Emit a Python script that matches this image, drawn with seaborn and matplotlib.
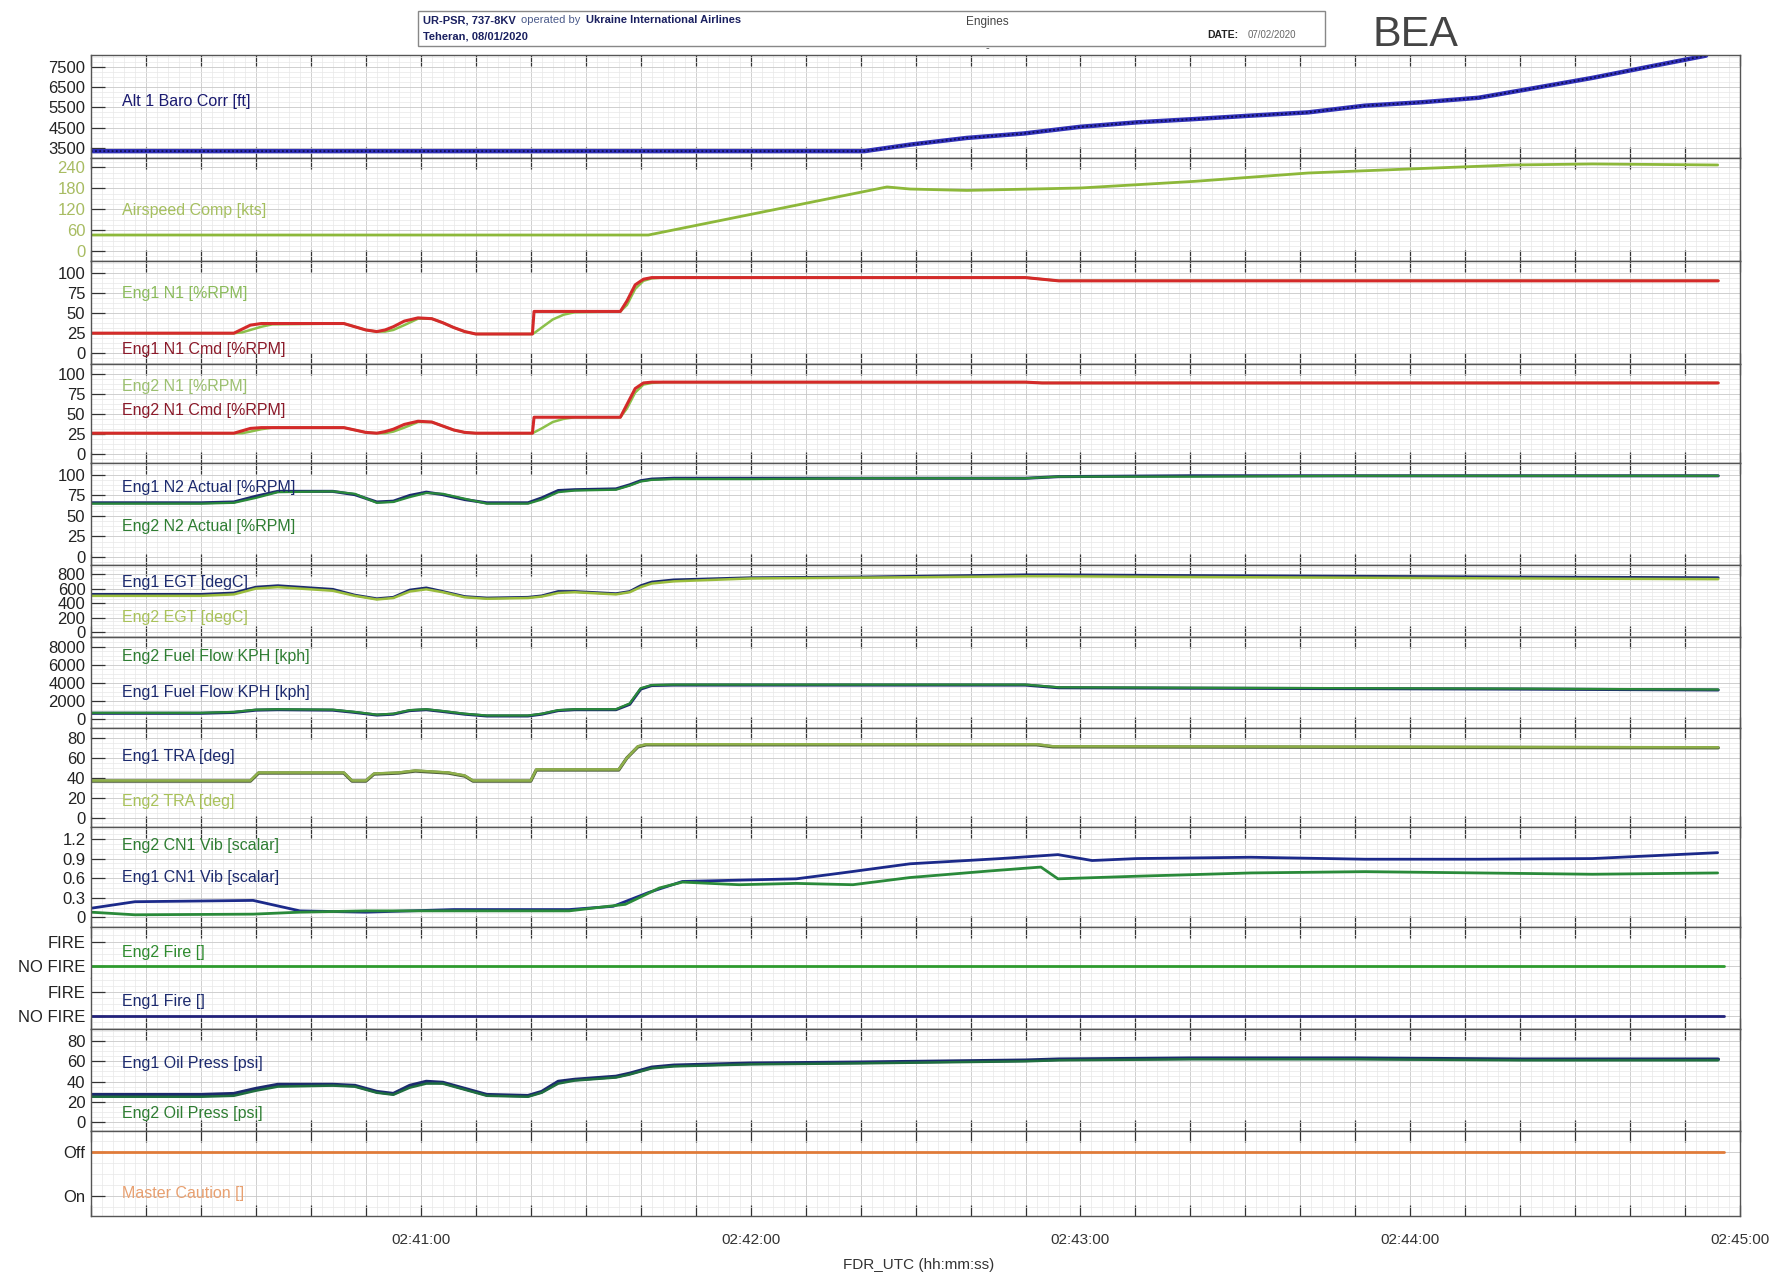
import numpy as np
import pandas as pd
import seaborn as sns
import matplotlib.pyplot as plt
from matplotlib.ticker import MultipleLocator, AutoMinorLocator, FuncFormatter

# time axis: seconds after 02:40:00 UTC
t_alt = [0, 140.7, 149, 159.3, 169.7, 180, 190.3, 200.7, 211, 221.4, 231.7, 242.1, 252.4, 262.8, 273.1, 283.4, 293.8]
alt = [3340, 3340, 3660, 3990, 4210, 4540, 4760, 4920, 5090, 5250, 5580, 5750, 5970, 6460, 6950, 7500, 8050]

t_ias = [0, 101.4, 144.8, 149, 159.3, 180, 200.7, 221.4, 242.1, 258.6, 273.1, 295.9]
ias = [46, 46, 184, 178, 174, 181, 200, 224, 237, 247, 250, 247]

t_n1 = [0, 26, 27.5, 29, 31, 33, 46, 48, 50, 52, 53.5, 55, 57, 59.5, 62, 64, 66, 68, 70, 80.3,
        80.6, 82, 84, 86, 88, 96.3, 97.5, 99, 100.5, 102, 104, 170, 173, 176, 296]
eng1_n1_cmd = [25, 25, 30, 35, 37, 37, 37, 33, 29, 27, 29, 33, 40, 44, 43, 38, 32, 27, 24, 24,
               52, 52, 52, 52, 52, 52, 65, 85, 92, 94, 94, 94, 92, 90, 90]
eng1_n1 = [25, 25, 26, 29, 33, 36, 37, 33, 29, 27, 27, 29, 35, 43, 43, 38, 32, 27, 24, 24,
           25, 32, 42, 48, 51, 52, 60, 80, 90, 93, 94, 94, 92, 90, 90]
eng2_n1_cmd = [26, 26, 29, 32, 33, 33, 33, 30, 27, 26, 28, 31, 37, 41, 40, 35, 30, 27, 26, 26,
               46, 46, 46, 46, 46, 46, 62, 82, 89, 90, 90, 90, 89, 89, 89]
eng2_n1 = [26, 26, 26, 28, 31, 33, 33, 30, 27, 26, 26, 28, 33, 40, 40, 35, 30, 27, 26, 26,
           27, 32, 40, 44, 46, 46, 57, 77, 87, 89, 90, 90, 89, 89, 89]

t_eng = [0, 20, 26, 30, 34, 44, 48, 52, 55, 58, 61, 64, 68, 72, 79.5, 82, 85, 88, 95.5, 98,
         100, 102, 106, 120, 140, 170, 176, 200, 230, 260, 296]
eng1_n2 = [66, 66, 67, 74, 80, 80, 76, 67, 68, 75, 79, 76, 70, 66, 66, 72, 81, 82, 83, 88,
           93, 95, 96, 96, 96, 96, 98, 99, 99, 99, 99]
eng2_n2 = [65, 65, 66, 72, 79, 80, 77, 66, 67, 73, 78, 77, 71, 65, 65, 70, 79, 81, 82, 87,
           92, 94, 95, 95, 96, 96, 98, 98, 99, 99, 99]
eng1_egt = [520, 520, 540, 620, 640, 590, 510, 460, 480, 580, 610, 560, 490, 470, 480, 500, 560, 560, 530, 560,
            640, 690, 720, 750, 760, 790, 790, 780, 770, 760, 750]
eng2_egt = [500, 500, 520, 600, 620, 570, 500, 450, 470, 560, 590, 550, 480, 460, 470, 490, 540, 550, 520, 550,
            620, 670, 700, 740, 750, 770, 770, 760, 750, 740, 730]
eng1_ff = [600, 600, 700, 950, 1000, 950, 700, 400, 500, 900, 1000, 800, 500, 300, 300, 500, 900, 1000, 1000, 1600,
           3300, 3700, 3750, 3750, 3750, 3750, 3450, 3400, 3350, 3300, 3200]
eng2_ff = [650, 650, 750, 1000, 1050, 1000, 750, 450, 550, 950, 1050, 850, 550, 350, 350, 550, 950, 1050, 1050, 1700,
           3400, 3750, 3800, 3800, 3800, 3800, 3500, 3450, 3400, 3350, 3250]
eng1_oil = [27, 27, 28, 33, 37, 37, 36, 30, 28, 36, 40, 39, 33, 27, 26, 30, 40, 42, 45, 48,
            51, 54, 56, 58, 59, 61, 62, 63, 63, 62, 62]
eng2_oil = [25, 25, 26, 31, 35, 36, 35, 29, 27, 34, 38, 38, 32, 26, 25, 29, 38, 41, 44, 47,
            50, 53, 55, 57, 58, 60, 61, 62, 62, 61, 61]

t_tra = [0, 29, 30.5, 46, 47.5, 50, 51.5, 56, 59, 62, 65, 68, 69.5, 80, 81, 96, 97.5, 99.5, 101, 172, 175, 296]
eng1_tra = [37, 37, 45, 45, 37, 37, 44, 45, 47, 46, 45, 42, 37, 37, 48, 48, 60, 71, 73, 73, 71, 70]
eng2_tra = [37.5, 37.5, 45.5, 45.5, 37.5, 37.5, 44.5, 45.5, 47.5, 46.5, 45.5, 42.5, 37.5, 37.5, 48.5, 48.5, 60, 71.5, 73.5, 73.5, 71.5, 70.5]

t_vib1 = [0, 8, 29.5, 38, 50, 66, 87, 95, 101.4, 107.6, 128.3, 136.6, 149, 165.5, 175.9, 182.1, 190.3, 211, 231.7, 252.4, 273.1, 295.9]
eng1_vib = [0.14, 0.24, 0.26, 0.10, 0.08, 0.12, 0.12, 0.17, 0.38, 0.55, 0.59, 0.68, 0.82, 0.90, 0.96, 0.87, 0.90, 0.92, 0.89, 0.89, 0.90, 0.99]
t_vib2 = [0, 8, 29.5, 38, 50, 66, 87, 97.2, 103.4, 107.6, 117.9, 128.3, 138.6, 149, 163.4, 172.8, 175.9, 190.3, 211, 231.7, 252.4, 273.1, 295.9]
eng2_vib = [0.08, 0.04, 0.05, 0.08, 0.1, 0.1, 0.1, 0.2, 0.45, 0.54, 0.5, 0.52, 0.5, 0.61, 0.71, 0.77, 0.59, 0.63, 0.68, 0.70, 0.68, 0.66, 0.68]

t_flag = [0, 297]
eng2_fire = [0, 0]
eng1_fire = [0, 0]
master_caution = [1, 1]   # 1 = Off

xtick_minutes = ['02:41:00', '02:42:00', '02:43:00', '02:44:00', '02:45:00']

NAVY = '#1c2a6e'
GREEN = '#2a8a3a'
YGREEN = '#9abd3c'
RED = '#d42a2a'

sns.set_theme(style='white')
plt.rcParams['font.family'] = ['Liberation Sans', 'DejaVu Sans']

fig = plt.figure(figsize=(17.83, 12.79), dpi=100)
heights = [91, 91, 90, 87, 90, 63, 80, 87, 88, 45, 45, 90, 75]
gs = fig.add_gridspec(13, 1, height_ratios=heights, hspace=0,
                      left=0.051, right=0.976, top=1 - 48 / 1125, bottom=1 - 1070 / 1125)
axes = [fig.add_subplot(gs[i]) for i in range(13)]


def style(ax, ylim, yticks, ylabels=None, tick_color='#222222'):
    ax.set_xlim(0, 300)
    ax.set_ylim(*ylim)
    ax.set_yticks(yticks)
    if ylabels is not None:
        ax.set_yticklabels(ylabels)
    ax.xaxis.set_major_locator(MultipleLocator(10))
    ax.xaxis.set_minor_locator(MultipleLocator(2))
    ax.yaxis.set_minor_locator(AutoMinorLocator(4))
    ax.grid(which='major', color='#c8c8c8', lw=0.6)
    ax.grid(which='minor', color='#e8e8e8', lw=0.5)
    ax.tick_params(axis='x', which='major', direction='in', top=True, bottom=True,
                   length=8, width=0.9, color='#333333', labelbottom=False)
    ax.tick_params(axis='y', which='major', direction='in', left=True, length=10,
                   width=0.9, color='#333333', labelsize=12, pad=4, labelcolor=tick_color)
    ax.tick_params(which='minor', length=0)
    for s in ax.spines.values():
        s.set_color('#555555')
        s.set_linewidth(1)
    ax.set_xlabel('')
    ax.set_ylabel('')


def label(ax, y, text, color):
    ax.text(0.019, y, text, transform=ax.transAxes, color=color, fontsize=11.5, va='center')


# 1 altitude
ax = axes[0]
sns.lineplot(x=t_alt, y=alt, ax=ax, color='#3030b8', linewidth=3.2)
sns.lineplot(x=t_alt, y=alt, ax=ax, color='#0e0e50', linewidth=1.3, linestyle=(0, (1, 1.3)))
style(ax, (3000, 8100), [3500, 4500, 5500, 6500, 7500])
label(ax, 0.55, 'Alt 1 Baro Corr [ft]', '#1a1a70')

# 2 airspeed
ax = axes[1]
sns.lineplot(x=t_ias, y=ias, ax=ax, color='#8db83a', linewidth=2)
style(ax, (-30, 267), [0, 60, 120, 180, 240], tick_color='#a8bc62')
label(ax, 0.49, 'Airspeed Comp [kts]', '#a6c060')

# 3 eng1 N1
ax = axes[2]
sns.lineplot(x=t_n1, y=eng1_n1, ax=ax, color='#8cc04a', linewidth=1.8)
sns.lineplot(x=t_n1, y=eng1_n1_cmd, ax=ax, color=RED, linewidth=2.2)
style(ax, (-13, 114), [0, 25, 50, 75, 100])
label(ax, 0.69, 'Eng1 N1 [%RPM]', '#8cbc5c')
label(ax, 0.14, 'Eng1 N1 Cmd [%RPM]', '#8b1a2a')

# 4 eng2 N1
ax = axes[3]
sns.lineplot(x=t_n1, y=eng2_n1, ax=ax, color='#8cc04a', linewidth=1.8)
sns.lineplot(x=t_n1, y=eng2_n1_cmd, ax=ax, color=RED, linewidth=2.2)
style(ax, (-11, 113), [0, 25, 50, 75, 100])
label(ax, 0.77, 'Eng2 N1 [%RPM]', '#9cc070')
label(ax, 0.53, 'Eng2 N1 Cmd [%RPM]', '#8b1a2a')

# 5 N2
ax = axes[4]
sns.lineplot(x=t_eng, y=eng1_n2, ax=ax, color=NAVY, linewidth=2.2)
sns.lineplot(x=t_eng, y=eng2_n2, ax=ax, color=GREEN, linewidth=1.6)
style(ax, (-10, 115), [0, 25, 50, 75, 100])
label(ax, 0.76, 'Eng1 N2 Actual [%RPM]', NAVY)
label(ax, 0.38, 'Eng2 N2 Actual [%RPM]', '#2e7d32')

# 6 EGT
ax = axes[5]
sns.lineplot(x=t_eng, y=eng1_egt, ax=ax, color=NAVY, linewidth=2)
sns.lineplot(x=t_eng, y=eng2_egt, ax=ax, color=YGREEN, linewidth=1.8)
style(ax, (-63, 925), [0, 200, 400, 600, 800])
label(ax, 0.75, 'Eng1 EGT [degC]', NAVY)
label(ax, 0.27, 'Eng2 EGT [degC]', '#a9c25a')

# 7 fuel flow
ax = axes[6]
sns.lineplot(x=t_eng, y=eng1_ff, ax=ax, color=NAVY, linewidth=2.2)
sns.lineplot(x=t_eng, y=eng2_ff, ax=ax, color=GREEN, linewidth=1.6)
style(ax, (-1000, 9150), [0, 2000, 4000, 6000, 8000])
label(ax, 0.78, 'Eng2 Fuel Flow KPH [kph]', '#2e7d32')
label(ax, 0.39, 'Eng1 Fuel Flow KPH [kph]', NAVY)

# 8 TRA
ax = axes[7]
sns.lineplot(x=t_tra, y=eng1_tra, ax=ax, color='#4a5a3a', linewidth=2.4)
sns.lineplot(x=t_tra, y=eng2_tra, ax=ax, color='#8fb04a', linewidth=1.8)
style(ax, (-8, 90), [0, 20, 40, 60, 80])
label(ax, 0.71, 'Eng1 TRA [deg]', NAVY)
label(ax, 0.25, 'Eng2 TRA [deg]', '#a9c25a')

# 9 CN1 vibration
ax = axes[8]
sns.lineplot(x=t_vib1, y=eng1_vib, ax=ax, color='#1c2a8a', linewidth=2)
sns.lineplot(x=t_vib2, y=eng2_vib, ax=ax, color=GREEN, linewidth=2)
style(ax, (-0.14, 1.39), [0, 0.3, 0.6, 0.9, 1.2], ['0', '0.3', '0.6', '0.9', '1.2'])
label(ax, 0.81, 'Eng2 CN1 Vib [scalar]', '#2e7d32')
label(ax, 0.49, 'Eng1 CN1 Vib [scalar]', NAVY)

# 10/11 fire
ax = axes[9]
sns.lineplot(x=t_flag, y=eng2_fire, ax=ax, color='#2e9a2e', linewidth=2)
style(ax, (-0.45, 1.6), [0, 1], ['NO FIRE', 'FIRE'])
ax.spines['bottom'].set_visible(False)
ax.tick_params(axis='x', bottom=False)
label(ax, 0.49, 'Eng2 Fire []', '#2e8b2e')

ax = axes[10]
sns.lineplot(x=t_flag, y=eng1_fire, ax=ax, color='#22227a', linewidth=2)
style(ax, (-0.55, 1.6), [0, 1], ['NO FIRE', 'FIRE'])
ax.spines['top'].set_visible(False)
ax.tick_params(axis='x', top=False)
label(ax, 0.53, 'Eng1 Fire []', NAVY)

# 12 oil pressure
ax = axes[11]
sns.lineplot(x=t_eng, y=eng1_oil, ax=ax, color=NAVY, linewidth=2.6)
sns.lineplot(x=t_eng, y=eng2_oil, ax=ax, color='#1f6e3f', linewidth=1.8)
style(ax, (-9, 92), [0, 20, 40, 60, 80])
label(ax, 0.66, 'Eng1 Oil Press [psi]', NAVY)
label(ax, 0.17, 'Eng2 Oil Press [psi]', '#2e7d32')

# 13 master caution
ax = axes[12]
sns.lineplot(x=t_flag, y=master_caution, ax=ax, color='#e07b39', linewidth=2)
style(ax, (-0.46, 1.46), [0, 1], ['On', 'Off'])
label(ax, 0.27, 'Master Caution []', '#e8a070')

bottom = axes[12]
bottom.tick_params(axis='x', labelbottom=True, labelsize=11, pad=12, labelcolor='#333333')
bottom.xaxis.set_major_formatter(FuncFormatter(
    lambda v, p: xtick_minutes[int(round(v / 60)) - 1] if (round(v) % 60 == 0 and 60 <= round(v) <= 300) else ''))

fig.text(0.515, 0.011, 'FDR_UTC (hh:mm:ss)', ha='center', va='center', fontsize=11, color='#333333')

# header box
fig.add_artist(plt.Rectangle((0.2347, 0.9644), 0.743 - 0.2347, 0.9911 - 0.9644,
                             transform=fig.transFigure, fill=False, ec='#888888', lw=1))
renderer = fig.canvas.get_renderer()
hx = 0.2372
for txt, kw in [('UR-PSR, 737-8KV', dict(weight='bold', color='#1a2060')),
                ('operated by', dict(color='#4a5a8a')),
                ('Ukraine International Airlines', dict(weight='bold', color='#1a2060'))]:
    ht = fig.text(hx, 0.984, txt, fontsize=8, va='center', **kw)
    bb = ht.get_window_extent(renderer)
    hx = fig.transFigure.inverted().transform((bb.x1, 0))[0] + 0.003
fig.text(0.2372, 0.9716, 'Teheran, 08/01/2020', fontsize=8, weight='bold', color='#1a2060', va='center')
fig.text(0.5536, 0.983, 'Engines', fontsize=8.5, color='#444444', ha='center', va='center')
fig.text(0.5536, 0.962, '-', fontsize=8, color='#444444', ha='center', va='center')
fig.text(0.677, 0.9725, 'DATE:', fontsize=7.5, weight='bold', color='#222222', va='center')
fig.text(0.7, 0.9725, '07/02/2020', fontsize=7, color='#666666', va='center')
fig.text(0.77, 0.973, 'BEA', fontsize=31, color='#444444', va='center')

fig.savefig('out.png', dpi=100)
